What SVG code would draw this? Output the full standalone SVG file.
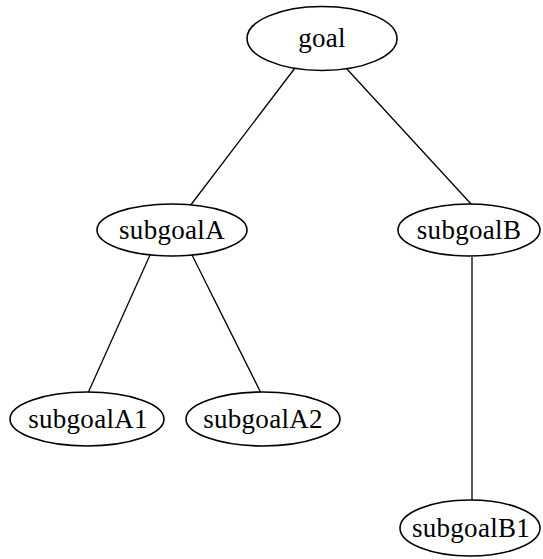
<svg xmlns="http://www.w3.org/2000/svg" width="543" height="559" viewBox="0 0 543 559">
  <style>
    .node ellipse { fill: #ffffff; stroke: #000000; stroke-width: 1.6; }
    .node text { font-family: "Liberation Serif", "Times New Roman", serif; font-size: 27px; letter-spacing: 0.3px; fill: #000000; text-anchor: middle; }
    .edges line { stroke: #000000; stroke-width: 1.3; }
  </style>
  <rect width="543" height="559" fill="#ffffff"/>
  <g class="edges">
    <line x1="295" y1="68" x2="190" y2="206"/>
    <line x1="346" y1="68" x2="472" y2="205"/>
    <line x1="150" y1="255" x2="88" y2="393"/>
    <line x1="192" y1="255" x2="261" y2="393"/>
    <line x1="472" y1="257" x2="472" y2="501"/>
  </g>
  <g id="goal" class="node">
    <ellipse cx="322" cy="38.5" rx="75" ry="32"/>
    <text x="322" y="47">goal</text>
  </g>
  <g id="subgoalA" class="node">
    <ellipse cx="172" cy="230" rx="75" ry="26"/>
    <text x="172" y="239">subgoalA</text>
  </g>
  <g id="subgoalB" class="node">
    <ellipse cx="469" cy="230" rx="71" ry="26"/>
    <text x="469" y="239">subgoalB</text>
  </g>
  <g id="subgoalA1" class="node">
    <ellipse cx="87" cy="419" rx="77" ry="27"/>
    <text x="88" y="428">subgoalA1</text>
  </g>
  <g id="subgoalA2" class="node">
    <ellipse cx="263" cy="419" rx="77" ry="27"/>
    <text x="263" y="428">subgoalA2</text>
  </g>
  <g id="subgoalB1" class="node">
    <ellipse cx="470" cy="528" rx="70" ry="28"/>
    <text x="471" y="537">subgoalB1</text>
  </g>
</svg>
